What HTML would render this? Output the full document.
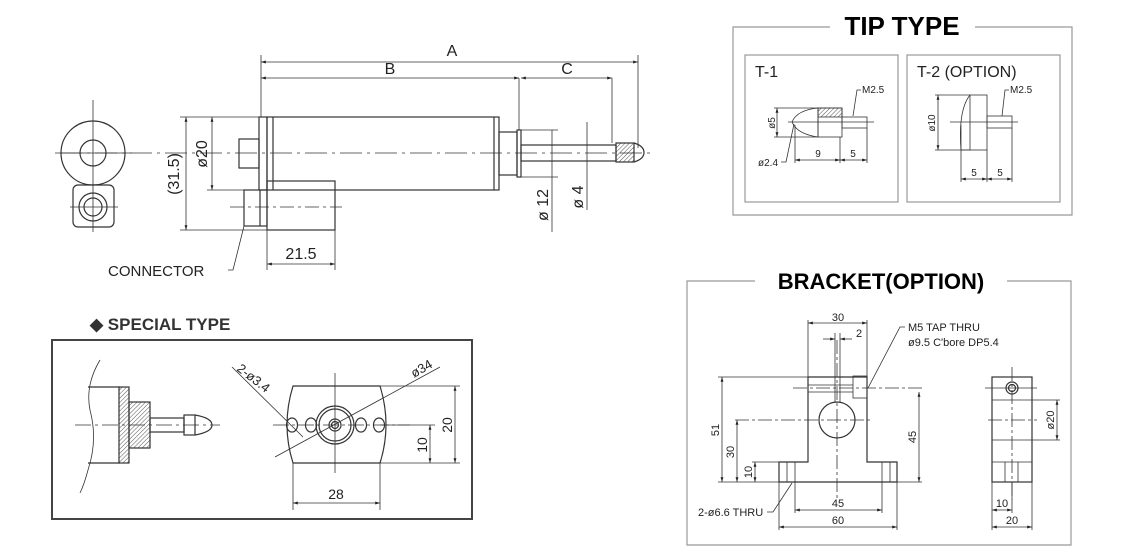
<!DOCTYPE html>
<html><head><meta charset="utf-8"><style>
html,body{margin:0;padding:0;background:#fff;}
svg{display:block;font-family:"Liberation Sans",sans-serif;}
</style></head><body>
<svg width="1127" height="553" viewBox="0 0 1127 553" xmlns="http://www.w3.org/2000/svg">
<defs>
<marker id="a" viewBox="0 0 10 10" refX="10" refY="5" markerWidth="6" markerHeight="6" orient="auto-start-reverse"><path d="M0,2 L10,5 L0,8z" fill="#222"/></marker>
<pattern id="h" width="3" height="3" patternUnits="userSpaceOnUse" patternTransform="rotate(45)"><line x1="0" y1="0" x2="0" y2="3" stroke="#555" stroke-width="1"/></pattern>
</defs>
<g stroke="#333" stroke-width="1.2" fill="none">
<!-- MAIN front view -->
<circle cx="93" cy="153" r="32"/>
<circle cx="93" cy="153" r="13"/>
<rect x="73" y="185" width="41" height="42" rx="5"/>
<circle cx="93" cy="207" r="14"/>
<circle cx="93" cy="207" r="9"/>
<line x1="93" y1="100" x2="93" y2="232" stroke-width="0.8"/>
<line x1="55" y1="153" x2="132" y2="153" stroke-width="0.8"/>
<line x1="70" y1="207" x2="118" y2="207" stroke-width="0.8"/>
<!-- side view -->
<rect x="239" y="139" width="20" height="29"/>
<rect x="259" y="117" width="8" height="73"/>
<rect x="267" y="117" width="232" height="73"/>
<line x1="273" y1="117" x2="273" y2="190"/>
<line x1="494" y1="117" x2="494" y2="190"/>
<rect x="499" y="132" width="18" height="43"/>
<rect x="517" y="130" width="4" height="47"/>
<rect x="521" y="145" width="95" height="16"/>
<rect x="616" y="143" width="18" height="19" fill="url(#h)"/>
<path d="M634,143 Q644,146 644,152.5 Q644,159 634,162"/>
<rect x="267" y="181" width="68" height="49"/>
<rect x="244" y="190" width="23" height="36"/>
<line x1="260" y1="190" x2="260" y2="226"/>
<line x1="60" y1="153" x2="655" y2="153" stroke-dasharray="22,5,3,5" stroke-width="0.8"/>
<line x1="230" y1="207" x2="342" y2="207" stroke-dasharray="14,4,3,4" stroke-width="0.8"/>
<!-- dims -->
<line x1="261" y1="55" x2="261" y2="117" stroke-width="0.8"/>
<line x1="638" y1="55" x2="638" y2="148" stroke-width="0.8"/>
<line x1="519" y1="78" x2="519" y2="130" stroke-width="0.8"/>
<line x1="612" y1="78" x2="612" y2="143" stroke-width="0.8"/>
<line x1="261" y1="62" x2="638" y2="62" marker-start="url(#a)" marker-end="url(#a)" stroke-width="0.8"/>
<line x1="261" y1="78" x2="519" y2="78" marker-start="url(#a)" marker-end="url(#a)" stroke-width="0.8"/>
<line x1="521" y1="78" x2="612" y2="78" marker-start="url(#a)" marker-end="url(#a)" stroke-width="0.8"/>
<line x1="180" y1="117" x2="259" y2="117" stroke-width="0.8"/>
<line x1="207" y1="190" x2="259" y2="190" stroke-width="0.8"/>
<line x1="180" y1="230" x2="267" y2="230" stroke-width="0.8"/>
<line x1="186" y1="117" x2="186" y2="230" marker-start="url(#a)" marker-end="url(#a)" stroke-width="0.8"/>
<line x1="212" y1="117" x2="212" y2="190" marker-start="url(#a)" marker-end="url(#a)" stroke-width="0.8"/>
<line x1="521" y1="130" x2="558" y2="130" stroke-width="0.8"/>
<line x1="521" y1="177" x2="558" y2="177" stroke-width="0.8"/>
<line x1="552" y1="130" x2="552" y2="232" stroke-width="0.8"/>
<line x1="587" y1="122" x2="587" y2="210" stroke-width="0.8"/>
<line x1="267" y1="230" x2="267" y2="270" stroke-width="0.8"/>
<line x1="335" y1="230" x2="335" y2="270" stroke-width="0.8"/>
<line x1="267" y1="264" x2="335" y2="264" marker-start="url(#a)" marker-end="url(#a)" stroke-width="0.8"/>
<path d="M228,270 L233,270 L244,226" stroke-width="0.8"/>

<!-- SPECIAL TYPE box -->
<rect x="52" y="340" width="420" height="179" stroke="#444" stroke-width="2"/>
<path d="M100,360 Q85,385 90,410 Q98,440 88,470 Q84,485 80,493" stroke-width="0.8"/>
<line x1="88" y1="387" x2="120" y2="387"/><line x1="88" y1="463" x2="120" y2="463"/>
<rect x="119" y="387" width="10" height="76" fill="url(#h)"/>
<rect x="129" y="402" width="21" height="46" fill="url(#h)"/>
<rect x="150" y="418" width="34" height="14"/>
<rect x="184" y="415" width="11" height="20"/>
<path d="M195,415 Q212,418 212,425 Q212,432 195,435"/>
<line x1="75" y1="425" x2="220" y2="425" stroke-width="0.8" stroke-dasharray="16,4,3,4"/>
<path d="M293,386 L380,386 Q392,425 380,463 L293,463 Q281,425 293,386z"/>
<circle cx="335" cy="425" r="19"/><circle cx="335" cy="425" r="16"/>
<circle cx="335" cy="425" r="6"/><circle cx="335" cy="425" r="3.5"/>
<ellipse cx="292" cy="425" rx="5.5" ry="7"/><ellipse cx="311" cy="425" rx="5.5" ry="7"/>
<ellipse cx="361" cy="425" rx="5.5" ry="7"/><ellipse cx="379" cy="425" rx="5.5" ry="7"/>
<line x1="273" y1="425" x2="410" y2="425" stroke-width="0.8" stroke-dasharray="16,3,3,3"/>
<line x1="335" y1="373" x2="335" y2="473" stroke-width="0.8"/>
<line x1="275" y1="457" x2="440" y2="367" stroke-width="0.8"/>
<line x1="232" y1="367" x2="303" y2="437" stroke-width="0.8"/>
<line x1="380" y1="386" x2="460" y2="386" stroke-width="0.8"/>
<line x1="380" y1="463" x2="460" y2="463" stroke-width="0.8"/>
<line x1="380" y1="425" x2="435" y2="425" stroke-width="0.8"/>
<line x1="455" y1="386" x2="455" y2="463" marker-start="url(#a)" marker-end="url(#a)" stroke-width="0.8"/>
<line x1="430" y1="425" x2="430" y2="463" marker-start="url(#a)" marker-end="url(#a)" stroke-width="0.8"/>
<line x1="293" y1="463" x2="293" y2="510" stroke-width="0.8"/>
<line x1="380" y1="463" x2="380" y2="510" stroke-width="0.8"/>
<line x1="293" y1="503" x2="380" y2="503" marker-start="url(#a)" marker-end="url(#a)" stroke-width="0.8"/>

<!-- TIP TYPE -->
<path d="M830,27 L733,27 L733,215 L1072,215 L1072,27 L975,27" stroke="#999"/>
<rect x="745" y="55" width="153" height="147" stroke="#999"/>
<rect x="907" y="55" width="153" height="147" stroke="#999"/>
<g stroke-width="0.8">
<path d="M818,108 Q797,110 792,122 Q797,134 818,137z"/>
<rect x="818" y="108" width="24" height="29"/>
<rect x="818" y="108" width="24" height="9" fill="url(#h)"/>
<rect x="842" y="117" width="25" height="11"/>
<line x1="788" y1="122" x2="874" y2="122"/>
<line x1="774" y1="108" x2="818" y2="108"/><line x1="774" y1="137" x2="818" y2="137"/>
<line x1="777" y1="108" x2="777" y2="137" marker-start="url(#a)" marker-end="url(#a)"/>
<path d="M853,116 L857,90 L861,90"/>
<path d="M794,124 L786,162 L781,162"/>
<line x1="795" y1="125" x2="795" y2="163"/><line x1="840" y1="137" x2="840" y2="163"/><line x1="867" y1="128" x2="867" y2="163"/>
<line x1="795" y1="160" x2="840" y2="160" marker-start="url(#a)" marker-end="url(#a)"/>
<line x1="840" y1="160" x2="867" y2="160" marker-start="url(#a)" marker-end="url(#a)"/>
<rect x="970" y="95" width="17" height="55"/>
<path d="M970,95 Q958,110 961,150 L970,150"/>
<rect x="987" y="116" width="25" height="12"/>
<line x1="950" y1="122" x2="1018" y2="122"/>
<line x1="935" y1="95" x2="970" y2="95"/><line x1="935" y1="150" x2="970" y2="150"/>
<line x1="938" y1="95" x2="938" y2="150" marker-start="url(#a)" marker-end="url(#a)"/>
<path d="M1002,116 L1005,90 L1009,90"/>
<line x1="961" y1="125" x2="961" y2="182"/><line x1="987" y1="150" x2="987" y2="182"/><line x1="1012" y1="128" x2="1012" y2="182"/>
<line x1="961" y1="179" x2="987" y2="179" marker-start="url(#a)" marker-end="url(#a)"/>
<line x1="987" y1="179" x2="1012" y2="179" marker-start="url(#a)" marker-end="url(#a)"/>
</g>

<!-- BRACKET -->
<path d="M755,281 L687,281 L687,545 L1071,545 L1071,281 L1007,281" stroke="#999"/>
<path d="M808,377 L867,377 L867,462 L897,462 L897,482 L779,482 L779,462 L808,462z"/>
<circle cx="837" cy="420" r="18"/>
<g stroke-width="0.8">
<line x1="835" y1="333" x2="835" y2="402"/><line x1="840" y1="333" x2="840" y2="402"/>
<line x1="808" y1="385" x2="853" y2="385"/><line x1="808" y1="392" x2="853" y2="392"/>
<rect x="853" y="376" width="14" height="22"/>
<line x1="787" y1="462" x2="787" y2="482"/><line x1="795" y1="462" x2="795" y2="513"/>
<line x1="882" y1="462" x2="882" y2="513"/><line x1="890" y1="462" x2="890" y2="482"/>
<line x1="837" y1="340" x2="837" y2="500" stroke-dasharray="14,3,3,3"/>
<line x1="793" y1="388" x2="922" y2="388" stroke-dasharray="14,3,3,3"/>
<line x1="735" y1="420" x2="872" y2="420" stroke-dasharray="14,3,3,3"/>
<line x1="808" y1="320" x2="808" y2="377"/><line x1="867" y1="320" x2="867" y2="377"/>
<line x1="808" y1="323" x2="867" y2="323" marker-start="url(#a)" marker-end="url(#a)"/>
<line x1="823" y1="339" x2="835" y2="339" marker-end="url(#a)"/><line x1="852" y1="339" x2="840" y2="339" marker-end="url(#a)"/>
<path d="M905,327 L900,327 L868,388"/>
<line x1="718" y1="377" x2="808" y2="377"/>
<line x1="718" y1="482" x2="779" y2="482"/><line x1="752" y1="462" x2="779" y2="462"/>
<line x1="722" y1="377" x2="722" y2="482" marker-start="url(#a)" marker-end="url(#a)"/>
<line x1="737" y1="420" x2="737" y2="482" marker-start="url(#a)" marker-end="url(#a)"/>
<line x1="755" y1="462" x2="755" y2="482" marker-start="url(#a)" marker-end="url(#a)"/>
<line x1="897" y1="482" x2="922" y2="482"/>
<line x1="919" y1="392" x2="919" y2="482" marker-start="url(#a)" marker-end="url(#a)"/>
<line x1="779" y1="482" x2="779" y2="530"/><line x1="897" y1="482" x2="897" y2="530"/>
<line x1="795" y1="510" x2="882" y2="510" marker-start="url(#a)" marker-end="url(#a)"/>
<line x1="779" y1="527" x2="897" y2="527" marker-start="url(#a)" marker-end="url(#a)"/>
<path d="M767,512 L773,512 L792,483"/>
</g>
<rect x="992" y="377" width="40" height="105"/>
<circle cx="1012" cy="388" r="6"/><circle cx="1012" cy="388" r="3.5"/>
<g stroke-width="0.8">
<line x1="992" y1="400" x2="1060" y2="400"/><line x1="992" y1="440" x2="1060" y2="440"/>
<line x1="992" y1="462" x2="1032" y2="462"/>
<line x1="1005" y1="462" x2="1005" y2="482"/><line x1="1018" y1="462" x2="1018" y2="482"/>
<line x1="1012" y1="367" x2="1012" y2="500" stroke-dasharray="14,3,3,3"/>
<line x1="985" y1="388" x2="1037" y2="388"/>
<line x1="988" y1="420" x2="1037" y2="420" stroke-dasharray="14,3,3,3"/>
<line x1="1057" y1="400" x2="1057" y2="440" marker-start="url(#a)" marker-end="url(#a)"/>
<line x1="992" y1="482" x2="992" y2="530"/><line x1="1012" y1="482" x2="1012" y2="513"/><line x1="1032" y1="482" x2="1032" y2="530"/>
<line x1="992" y1="510" x2="1012" y2="510" marker-start="url(#a)" marker-end="url(#a)"/>
<line x1="992" y1="527" x2="1032" y2="527" marker-start="url(#a)" marker-end="url(#a)"/>
</g>
</g>

<g fill="#222" font-size="16">
<text x="452" y="56" text-anchor="middle">A</text>
<text x="390" y="74" text-anchor="middle">B</text>
<text x="567" y="74" text-anchor="middle">C</text>
<text transform="translate(179,174) rotate(-90)" text-anchor="middle">(31.5)</text>
<text transform="translate(207,154) rotate(-90)" text-anchor="middle">ø20</text>
<text transform="translate(548,205) rotate(-90)" text-anchor="middle">ø 12</text>
<text transform="translate(583,197) rotate(-90)" text-anchor="middle">ø 4</text>
<text x="301" y="259" text-anchor="middle">21.5</text>
<text x="108" y="276" font-size="15">CONNECTOR</text>
<text x="90" y="330" font-size="17" font-weight="bold" fill="#333">◆ SPECIAL TYPE</text>
<text transform="translate(236,370) rotate(38)" font-size="13">2-ø3.4</text>
<text transform="translate(414,378) rotate(-30)" font-size="13">ø34</text>
<text transform="translate(452,425) rotate(-90)" text-anchor="middle" font-size="14">20</text>
<text transform="translate(427,445) rotate(-90)" text-anchor="middle" font-size="14">10</text>
<text x="336" y="499" text-anchor="middle" font-size="14">28</text>
<text x="902" y="35" text-anchor="middle" font-size="26" font-weight="bold" fill="#000">TIP TYPE</text>
<text x="755" y="77" font-size="16">T-1</text>
<text x="917" y="77" font-size="16">T-2 (OPTION)</text>
<g font-size="10">
<text x="862" y="93">M2.5</text>
<text x="1010" y="93">M2.5</text>
<text x="758" y="166">ø2.4</text>
<text x="818" y="157" text-anchor="middle">9</text>
<text x="853" y="157" text-anchor="middle">5</text>
<text transform="translate(775,123) rotate(-90)" text-anchor="middle">ø5</text>
<text transform="translate(935,123) rotate(-90)" text-anchor="middle">ø10</text>
<text x="974" y="176" text-anchor="middle">5</text>
<text x="1000" y="176" text-anchor="middle">5</text>
</g>
<text x="881" y="289" text-anchor="middle" font-size="22" font-weight="bold" fill="#000">BRACKET(OPTION)</text>
<g font-size="11">
<text x="838" y="321" text-anchor="middle">30</text>
<text x="859" y="337" text-anchor="middle">2</text>
<text x="908" y="331">M5 TAP THRU</text>
<text x="908" y="346">ø9.5 C'bore DP5.4</text>
<text transform="translate(719,430) rotate(-90)" text-anchor="middle">51</text>
<text transform="translate(734,452) rotate(-90)" text-anchor="middle">30</text>
<text transform="translate(752,472) rotate(-90)" text-anchor="middle">10</text>
<text transform="translate(916,437) rotate(-90)" text-anchor="middle">45</text>
<text x="838" y="507" text-anchor="middle">45</text>
<text x="838" y="524" text-anchor="middle">60</text>
<text x="698" y="516">2-ø6.6 THRU</text>
<text transform="translate(1054,420) rotate(-90)" text-anchor="middle">ø20</text>
<text x="1002" y="507" text-anchor="middle">10</text>
<text x="1012" y="524" text-anchor="middle">20</text>
</g>
</g>
</svg>
</body></html>
